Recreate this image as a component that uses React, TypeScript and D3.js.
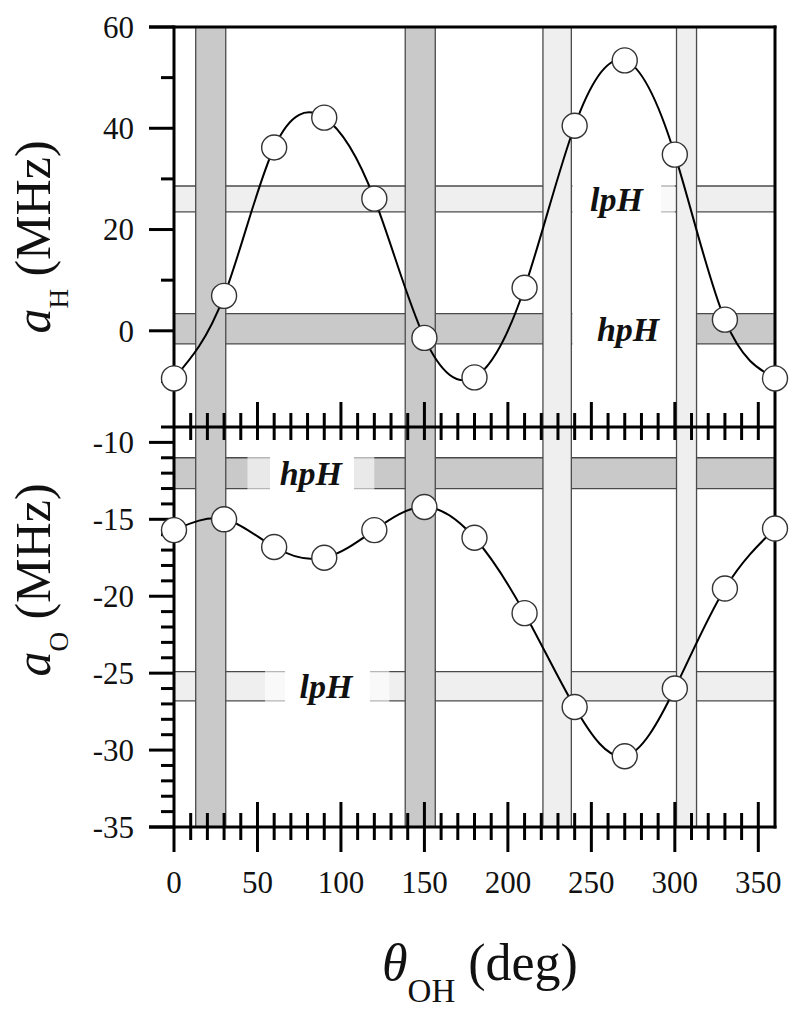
import React, { useEffect, useRef } from 'react';
import * as d3 from 'd3';

// dihedral angle theta_OH (deg)
const angles = [0, 30, 60, 90, 120, 150, 180, 210, 240, 270, 300, 330, 360];
// hyperfine couplings (MHz)
const aH = [-9.4, 6.9, 36.2, 42.1, 26.1, -1.4, -9.2, 8.5, 40.5, 53.4, 34.8, 2.2, -9.4];
const aO = [-15.7, -15.0, -16.8, -17.5, -15.7, -14.2, -16.2, -21.1, -27.2, -30.4, -26.0, -19.5, -15.6];

const xTicks = [0, 50, 100, 150, 200, 250, 300, 350];
const topTicks = [60, 40, 20, 0];
const bottomTicks = [-10, -15, -20, -25, -30, -35];

// angle windows (deg)
const windowLo = [13, 138.5, 221, 301];
const windowHi = [31, 156.5, 238, 313];
const windowKind = ['hpH', 'hpH', 'lpH', 'lpH'];

// measured ranges (MHz)
const bandPanel = ['top', 'top', 'bottom', 'bottom'];
const bandKind = ['lpH', 'hpH', 'hpH', 'lpH'];
const bandLo = [23.5, -2.6, -13, -26.8];
const bandHi = [28.6, 3.4, -11, -24.9];
// label place and the cut in each band (deg): fade start, clear start, clear end, fade end
const labelAngle = [265, 272, 82, 91];
const cutAngles = [
    [238, 239, 292, 300],
    [238, 239, 301, 301],
    [44, 57.5, 108, 120],
    [54.5, 66.5, 117.5, 129],
];

const fillOf = { hpH: '#c9c9c9', lpH: '#efefef' };
const serif = "'Liberation Serif', Tinos, 'Times New Roman', serif";

function Chart() {
    const ref = useRef(null);

    useEffect(() => {
        const svg = d3.select(ref.current);
        svg.selectAll('*').remove();

        const left = 174, right = 775, top = 27, mid = 427, bottom = 827;

        const x = d3.scaleLinear().domain([0, 360]).range([left, right]);
        const yT = d3.scaleLinear().domain([-19, 60]).range([mid, top]);
        const yB = d3.scaleLinear().domain([-35, -9]).range([bottom, mid]);
        const yOf = p => (p === 'top' ? yT : yB);

        // horizontal bands
        const hb = svg.append('g');
        bandLo.forEach((lo, i) => {
            const y = yOf(bandPanel[i]);
            const y0 = y(bandHi[i]), y1 = y(lo);
            hb.append('rect')
                .attr('x', left).attr('y', y0)
                .attr('width', right - left).attr('height', y1 - y0)
                .attr('fill', fillOf[bandKind[i]]);
            [y0, y1].forEach(yy => {
                hb.append('line')
                    .attr('x1', left).attr('x2', right)
                    .attr('y1', yy).attr('y2', yy)
                    .attr('stroke', '#4a4a4a').attr('stroke-width', 1.3);
            });
            const c = cutAngles[i];
            const pad = 2;
            hb.append('rect')
                .attr('x', x(c[0])).attr('y', y0 - pad)
                .attr('width', x(c[1]) - x(c[0])).attr('height', y1 - y0 + 2 * pad)
                .attr('fill', '#fff').attr('opacity', 0.6);
            hb.append('rect')
                .attr('x', x(c[1])).attr('y', y0 - pad)
                .attr('width', x(c[2]) - x(c[1])).attr('height', y1 - y0 + 2 * pad)
                .attr('fill', '#fff');
            hb.append('rect')
                .attr('x', x(c[2])).attr('y', y0 - pad)
                .attr('width', x(c[3]) - x(c[2])).attr('height', y1 - y0 + 2 * pad)
                .attr('fill', '#fff').attr('opacity', 0.6);
        });

        // vertical bands
        const vb = svg.append('g');
        windowLo.forEach((lo, i) => {
            const x0 = x(lo), x1 = x(windowHi[i]);
            vb.append('rect')
                .attr('x', x0).attr('y', top)
                .attr('width', x1 - x0).attr('height', bottom - top)
                .attr('fill', fillOf[windowKind[i]]);
            [x0, x1].forEach(xx => {
                vb.append('line')
                    .attr('x1', xx).attr('x2', xx)
                    .attr('y1', top).attr('y2', bottom)
                    .attr('stroke', '#4a4a4a').attr('stroke-width', 1.3);
            });
        });

        // band labels
        bandLo.forEach((lo, i) => {
            const y = yOf(bandPanel[i]);
            svg.append('text')
                .attr('x', x(labelAngle[i]))
                .attr('y', (y(lo) + y(bandHi[i])) / 2)
                .attr('dy', '0.35em')
                .attr('text-anchor', 'middle')
                .style('font-family', serif)
                .style('font-size', '34px')
                .style('font-weight', 'bold')
                .style('font-style', 'italic')
                .attr('fill', '#111')
                .text(bandKind[i]);
        });

        // curves and points
        const series = [
            { vals: aH, y: yT },
            { vals: aO, y: yB },
        ];
        series.forEach(s => {
            const pts = angles.map((a, i) => [a, s.vals[i]]);
            const line = d3.line()
                .x(d => x(d[0]))
                .y(d => s.y(d[1]))
                .curve(d3.curveNatural);
            svg.append('path')
                .datum(pts)
                .attr('d', line)
                .attr('fill', 'none')
                .attr('stroke', '#000')
                .attr('stroke-width', 2);
        });

        // axes
        const ax = svg.append('g').attr('stroke', '#000').attr('stroke-width', 3);
        const seg = (x1, y1, x2, y2) => ax.append('line')
            .attr('x1', x1).attr('y1', y1).attr('x2', x2).attr('y2', y2);

        seg(left, top - 1.5, left, bottom + 1.5);
        seg(right, top - 1.5, right, bottom + 1.5);
        seg(left - 25, top, right + 1.5, top);
        seg(left - 13, mid, right, mid);
        seg(left - 25, bottom, right + 1.5, bottom);

        // left ticks, top panel
        d3.range(-10, 61, 10).forEach(v => {
            const major = v % 20 === 0;
            seg(left - (major ? 25 : 13), yT(v), left, yT(v));
        });
        // left ticks, bottom panel
        d3.range(-35, -9, 1).forEach(v => {
            const major = v % 5 === 0;
            seg(left - (major ? 25 : 13), yB(v), left, yB(v));
        });
        // x ticks, middle and bottom
        d3.range(10, 360, 10).forEach(v => {
            const major = v % 50 === 0;
            seg(x(v), mid - (major ? 25 : 14), x(v), mid + 13);
            seg(x(v), bottom - (major ? 25 : 14), x(v), bottom + (major ? 25 : 13));
        });
        seg(x(0), bottom, x(0), bottom + 25);

        // circles on top
        series.forEach(s => {
            svg.append('g')
                .selectAll('circle')
                .data(angles)
                .enter()
                .append('circle')
                .attr('cx', d => x(d))
                .attr('cy', (d, i) => s.y(s.vals[i]))
                .attr('r', 12.5)
                .attr('fill', '#fff')
                .attr('stroke', '#333')
                .attr('stroke-width', 1.4);
        });

        // tick labels
        const tl = svg.append('g')
            .style('font-family', serif)
            .style('font-size', '31px')
            .attr('fill', '#111');
        topTicks.forEach(v => {
            tl.append('text')
                .attr('x', 134).attr('y', yT(v)).attr('dy', '0.35em')
                .attr('text-anchor', 'end')
                .text(v);
        });
        bottomTicks.forEach(v => {
            tl.append('text')
                .attr('x', 134).attr('y', yB(v)).attr('dy', '0.35em')
                .attr('text-anchor', 'end')
                .text(String(v));
        });
        xTicks.forEach(v => {
            tl.append('text')
                .attr('x', x(v)).attr('y', 893)
                .attr('text-anchor', 'middle')
                .text(v);
        });

        // axis titles
        const yTitle = (cy, sub) => {
            const t = svg.append('text')
                .attr('transform', `translate(50,${cy}) rotate(-90)`)
                .attr('text-anchor', 'middle')
                .style('font-family', serif)
                .style('font-size', '50px')
                .attr('fill', '#111');
            t.append('tspan').style('font-style', 'italic').text('a');
            t.append('tspan').style('font-size', '27px').attr('dy', 18).text(sub);
            t.append('tspan').attr('dy', -18).text(' (MHz)');
        };
        yTitle(237, 'H');
        yTitle(580, 'O');

        const xt = svg.append('text')
            .attr('x', 382).attr('y', 980)
            .style('font-family', serif)
            .style('font-size', '52px')
            .attr('fill', '#111');
        xt.append('tspan').style('font-style', 'italic').text('\u03b8');
        xt.append('tspan').style('font-size', '33px').attr('dy', 22).text('OH');
        xt.append('tspan').attr('dy', -22).text(' (deg)');
    }, []);

    return (
        <svg
            ref={ref}
            width={800}
            height={1014}
            style={{ position: 'absolute', left: 0, top: 0, background: '#fff' }}
        />
    );
}

export default function App() {
    return <Chart />;
}
